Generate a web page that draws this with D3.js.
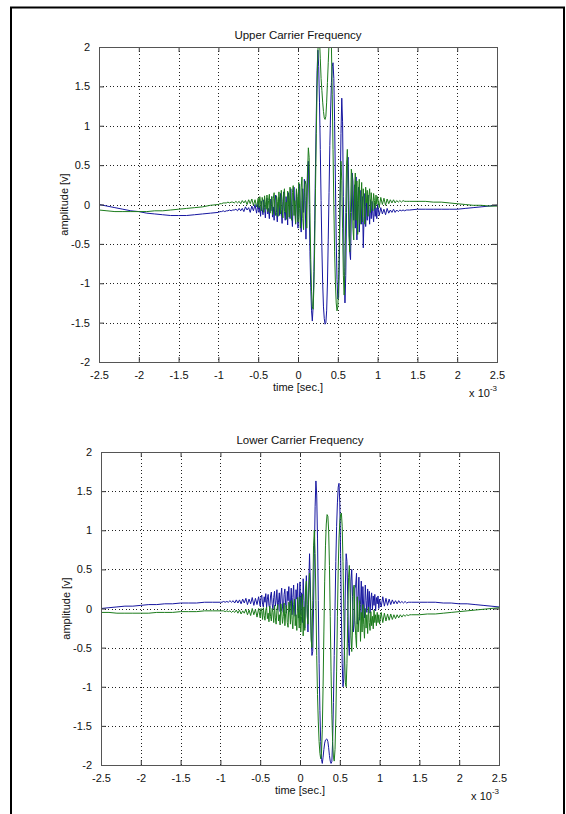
<!DOCTYPE html>
<html>
<head>
<meta charset="utf-8">
<script src="https://cdn.jsdelivr.net/npm/d3@7/dist/d3.min.js"></script>
<style>
  html, body { margin: 0; padding: 0; background: #fff; }
  svg { display: block; }
  text { font-family: "Liberation Sans", Arial, Helvetica, sans-serif; fill: #111; }
</style>
</head>
<body>
<svg id="fig" width="566" height="814"></svg>
<script>
// Sampling instants, in units of 1e-3 s (coarse at the quiet ends, finer through the burst)
const sampleTimes = [
  -2.5,-2.4,-2.3,-2.2,-2.1,-2.0,-1.9,-1.8,-1.7,-1.6,-1.5,-1.4,-1.3,-1.2,-1.1,-1.0,
  -0.98,-0.96,-0.94,-0.92,-0.90,-0.88,-0.86,-0.84,-0.82,-0.80,
  -0.78,-0.76,-0.74,-0.72,-0.70,-0.68,-0.66,-0.64,-0.62,-0.60,
  -0.58,-0.56,-0.54,-0.52,
  -0.50,-0.49,-0.48,-0.47,-0.46,-0.45,-0.44,-0.43,-0.42,-0.41,
  -0.40,-0.39,-0.38,-0.37,-0.36,-0.35,-0.34,-0.33,-0.32,-0.31,
  -0.30,-0.29,-0.28,-0.27,-0.26,-0.25,-0.24,-0.23,-0.22,-0.21,
  -0.20,-0.19,-0.18,-0.17,-0.16,-0.15,-0.14,-0.13,-0.12,-0.11,
  -0.10,-0.09,-0.08,-0.07,-0.06,-0.05,-0.04,-0.03,-0.02,-0.01,
  0.00,0.01,0.02,0.03,0.04,0.05,0.06,0.07,0.08,0.09,
  0.10,0.11,0.12,0.13,0.14,0.15,0.16,0.17,0.18,0.19,
  0.20,0.21,0.22,0.23,0.24,0.25,0.26,0.27,0.28,0.29,
  0.30,0.31,0.32,0.33,0.34,0.35,0.36,0.37,0.38,0.39,
  0.40,0.41,0.42,0.43,0.44,0.45,0.46,0.47,0.48,0.49,
  0.50,0.51,0.52,0.53,0.54,0.55,0.56,0.57,0.58,0.59,
  0.60,0.61,0.62,0.63,0.64,0.65,0.66,0.67,0.68,0.69,
  0.70,
  0.71,0.72,0.73,0.74,0.75,0.76,0.77,0.78,0.79,0.80,
  0.81,0.82,0.83,0.84,0.85,0.86,0.87,0.88,0.89,0.90,
  0.91,0.92,0.93,0.94,0.95,0.96,0.97,0.98,0.99,1.00,
  1.02,1.04,1.06,1.08,1.10,1.12,1.14,1.16,1.18,1.20,
  1.22,1.24,1.26,1.28,1.30,1.32,1.34,1.36,1.38,1.40,
  1.5,1.6,1.7,1.8,1.9,2.0,2.1,2.2,2.3,2.4,2.5
];

// Upper carrier: blue trace [v]
const upperBlue = [
  0.00,-0.02,-0.04,-0.06,-0.08,-0.09,-0.11,-0.12,-0.13,-0.14,-0.14,-0.14,-0.13,-0.12,-0.11,-0.10,
  -0.09,-0.09,-0.08,-0.09,-0.08,-0.08,-0.07,-0.08,-0.07,-0.07,
  -0.06,-0.08,-0.05,-0.08,-0.05,-0.09,-0.03,-0.07,-0.04,-0.10,
  -0.02,-0.08,0.00,-0.11,
  0.03,-0.10,-0.02,-0.15,0.04,-0.06,-0.13,0.06,-0.04,-0.17,
  0.02,0.08,-0.12,-0.05,-0.18,0.07,-0.08,0.10,-0.16,-0.03,
  -0.20,0.05,0.12,-0.10,-0.22,0.00,0.09,-0.14,0.14,-0.06,
  -0.24,0.04,0.16,-0.09,-0.20,0.10,-0.02,-0.26,0.15,0.05,
  -0.18,0.20,-0.12,-0.28,0.08,0.22,-0.06,-0.25,0.18,-0.02,
  -0.30,0.12,0.26,-0.15,-0.35,0.05,0.20,-0.10,0.32,0.05,
  -0.44,0.10,0.45,0.55,0.00,-0.60,-1.05,-1.35,-1.48,-1.30,
  -0.85,-0.20,0.50,1.15,1.70,1.96,1.75,1.30,0.70,0.05,
  -0.55,-1.00,-1.30,-1.45,-1.52,-1.50,-1.35,-1.00,-0.45,0.15,
  0.75,1.20,1.55,1.75,1.80,1.60,1.05,0.30,-0.45,-0.95,
  -1.20,-1.18,-0.70,0.15,0.90,1.35,1.05,0.10,-0.85,-1.25,
  -0.90,-0.10,0.55,0.60,0.05,-0.60,-0.70,-0.10,0.40,0.30,
  -0.20,
  0.25,-0.30,0.35,-0.45,0.05,0.22,-0.35,-0.10,0.18,-0.25,
  0.10,-0.55,-0.15,0.14,-0.28,0.02,-0.20,0.12,-0.06,-0.25,
  0.06,-0.18,0.04,-0.12,-0.22,0.02,-0.15,-0.04,-0.18,0.00,
  -0.14,-0.04,-0.12,-0.06,-0.13,-0.05,-0.11,-0.07,-0.10,-0.06,
  -0.10,-0.07,-0.09,-0.07,-0.08,-0.07,-0.08,-0.07,-0.07,-0.07,
  -0.06,-0.06,-0.06,-0.06,-0.06,-0.06,-0.05,-0.04,-0.03,-0.02,-0.01
];

// Upper carrier: green trace [v]
const upperGreen = [
  -0.07,-0.08,-0.09,-0.09,-0.09,-0.09,-0.09,-0.08,-0.08,-0.07,-0.06,-0.05,-0.04,-0.03,-0.01,0.00,
  0.01,0.01,0.02,0.02,0.02,0.03,0.02,0.03,0.03,0.02,
  0.04,0.02,0.04,0.01,0.05,0.02,0.05,0.00,0.06,0.01,
  0.07,-0.01,0.06,-0.03,
  0.08,-0.04,0.10,0.02,-0.08,0.09,0.03,-0.10,0.11,0.00,
  -0.06,0.12,-0.09,0.05,0.13,-0.11,0.02,0.10,-0.13,0.08,
  0.15,-0.08,-0.14,0.11,0.04,-0.15,0.16,0.02,-0.12,0.18,
  -0.05,-0.17,0.12,0.20,-0.10,0.03,-0.19,0.17,0.06,-0.16,
  0.22,-0.04,-0.20,0.15,0.24,-0.14,0.05,-0.24,0.20,0.10,
  -0.22,0.28,-0.05,-0.30,0.22,0.35,-0.18,-0.32,0.15,0.30,
  0.25,-0.30,0.40,0.72,0.60,-0.10,-0.70,-1.10,-1.30,-1.33,
  -1.05,-0.50,0.20,0.90,1.50,1.95,2.15,2.10,1.85,1.60,
  1.45,1.30,1.18,1.10,1.08,1.12,1.30,1.55,1.80,2.05,
  2.20,2.20,2.00,1.40,0.70,0.00,-0.60,-1.00,-1.25,-1.35,
  -1.30,-1.00,-0.40,0.20,0.55,0.30,-0.30,-0.90,-1.15,-0.80,
  -0.10,0.50,0.70,0.20,-0.40,-0.60,-0.10,0.45,0.35,-0.30,
  -0.45,
  0.15,0.40,-0.20,0.30,-0.38,0.10,0.32,-0.25,0.05,0.28,
  -0.22,0.20,-0.05,-0.25,0.22,0.02,0.18,-0.15,0.10,0.20,
  -0.10,0.15,0.02,-0.08,0.14,0.05,-0.05,0.12,0.00,0.10,
  -0.04,0.09,0.00,0.08,-0.01,0.07,0.01,0.06,0.02,0.06,
  0.02,0.05,0.03,0.05,0.03,0.05,0.04,0.04,0.04,0.04,
  0.04,0.04,0.03,0.03,0.02,0.01,0.00,-0.01,-0.01,-0.02,-0.02
];

// Lower carrier: blue trace [v]
const lowerBlue = [
  0.00,0.01,0.02,0.03,0.03,0.04,0.05,0.05,0.06,0.06,0.07,0.07,0.07,0.08,0.08,0.08,
  0.08,0.09,0.08,0.09,0.08,0.10,0.08,0.10,0.07,0.11,
  0.07,0.11,0.06,0.12,0.07,0.13,0.05,0.12,0.06,0.14,
  0.04,0.13,0.05,0.15,
  0.03,0.14,0.17,0.05,0.02,0.15,0.08,0.19,0.01,0.12,
  0.18,0.04,0.00,0.16,0.21,0.06,-0.01,0.14,0.22,0.03,
  0.10,0.24,-0.02,0.08,0.20,-0.04,0.16,0.26,0.02,-0.05,
  0.18,0.25,0.04,-0.06,0.22,0.10,0.28,-0.04,0.06,0.26,
  -0.08,0.14,0.30,0.02,-0.10,0.24,0.12,0.32,-0.12,0.05,
  0.34,-0.08,0.20,-0.18,0.38,0.10,-0.25,0.15,0.42,0.05,
  -0.30,0.30,0.70,0.30,-0.30,-0.60,-0.55,0.00,0.70,1.30,
  1.63,1.45,0.90,0.10,-0.70,-1.30,-1.70,-1.93,-1.98,-1.90,
  -1.80,-1.72,-1.68,-1.67,-1.67,-1.70,-1.78,-1.88,-1.95,-1.98,
  -1.96,-1.70,-1.20,-0.60,0.00,0.60,1.05,1.35,1.55,1.60,
  1.35,0.70,-0.10,-0.70,-1.00,-0.90,-0.40,0.30,0.70,0.60,
  0.10,-0.45,-0.60,-0.20,0.35,0.50,0.15,-0.30,-0.20,0.25,
  0.30,
  0.45,-0.20,0.15,0.40,-0.15,0.05,0.35,-0.10,0.28,0.02,
  -0.12,0.30,0.10,-0.05,0.25,0.00,0.22,-0.06,0.12,0.20,
  -0.02,0.16,0.04,0.18,-0.03,0.14,0.06,0.16,0.00,0.12,
  0.02,0.15,0.03,0.13,0.04,0.12,0.05,0.11,0.06,0.10,
  0.06,0.10,0.07,0.09,0.07,0.09,0.07,0.08,0.08,0.08,
  0.08,0.08,0.08,0.07,0.07,0.06,0.06,0.05,0.04,0.03,0.02
];

// Lower carrier: green trace [v]
const lowerGreen = [
  -0.05,-0.05,-0.06,-0.06,-0.06,-0.06,-0.06,-0.05,-0.05,-0.05,-0.04,-0.04,-0.04,-0.03,-0.03,-0.03,
  -0.03,-0.03,-0.04,-0.03,-0.04,-0.03,-0.05,-0.03,-0.05,-0.02,
  -0.06,-0.02,-0.07,-0.03,-0.06,-0.01,-0.08,-0.02,-0.09,0.00,
  -0.08,-0.01,-0.11,0.00,
  -0.12,0.00,-0.04,-0.14,0.01,-0.09,-0.15,-0.02,0.02,-0.13,
  -0.06,-0.17,0.03,-0.10,-0.16,0.00,-0.05,-0.18,0.04,-0.12,
  -0.20,-0.02,0.05,-0.16,-0.08,-0.21,0.06,-0.04,-0.19,-0.10,
  0.07,-0.22,-0.06,0.04,-0.18,-0.24,0.08,-0.02,-0.20,0.10,
  -0.14,-0.26,0.05,0.12,-0.22,-0.08,-0.28,0.14,-0.04,-0.25,
  0.15,-0.30,-0.10,0.18,-0.35,0.02,-0.28,0.25,0.35,-0.10,
  -0.20,0.20,0.45,0.10,-0.40,-0.50,0.10,0.80,1.00,0.70,
  0.10,-0.60,-1.10,-1.45,-1.70,-1.85,-1.92,-1.85,-1.55,-1.00,
  -0.30,0.35,0.80,1.08,1.20,1.18,1.00,0.55,-0.10,-0.80,
  -1.35,-1.70,-1.90,-1.95,-1.80,-1.40,-0.80,-0.10,0.50,0.90,
  1.10,1.20,1.22,1.05,0.60,0.00,-0.60,-0.95,-1.00,-0.70,
  -0.10,0.40,0.55,0.20,-0.35,-0.55,-0.25,0.25,0.30,-0.15,
  -0.35,
  -0.50,0.15,-0.30,-0.10,0.10,-0.42,-0.05,-0.30,0.05,-0.20,
  -0.38,0.00,-0.25,-0.08,-0.32,0.02,-0.18,-0.28,-0.04,-0.22,
  -0.10,-0.26,-0.02,-0.18,-0.08,-0.22,-0.05,-0.18,-0.08,-0.20,
  -0.05,-0.18,-0.06,-0.16,-0.07,-0.15,-0.07,-0.14,-0.08,-0.13,
  -0.08,-0.12,-0.08,-0.11,-0.08,-0.10,-0.08,-0.09,-0.08,-0.08,
  -0.08,-0.07,-0.07,-0.06,-0.05,-0.04,-0.03,-0.02,-0.01,0.00,0.01
];

const xTickValues = [-2.5,-2,-1.5,-1,-0.5,0,0.5,1,1.5,2,2.5];
const yTickValues = [-2,-1.5,-1,-0.5,0,0.5,1,1.5,2];
const panelTitles = ["Upper Carrier Frequency", "Lower Carrier Frequency"];
const xAxisLabel = "time [sec.]";
const yAxisLabel = "amplitude [v]";

const traceColors = ["#1616a0", "#1c7c1c"];

[upperBlue, upperGreen, lowerBlue, lowerGreen].forEach((s, i) => {
  if (s.length !== sampleTimes.length) throw new Error("series " + i + " has " + s.length + " samples, expected " + sampleTimes.length);
});

const panels = [
  { title: panelTitles[0], box: { left: 99, right: 497, top: 47, bottom: 362 }, traces: [upperBlue, upperGreen] },
  { title: panelTitles[1], box: { left: 101, right: 499, top: 452, bottom: 765 }, traces: [lowerBlue, lowerGreen] }
];

const svg = d3.select("#fig");
svg.append("rect").attr("width", 566).attr("height", 814).attr("fill", "#fff");

// Outer frame
svg.append("rect")
  .attr("x", 11).attr("y", 7.5)
  .attr("width", 553).attr("height", 830)
  .attr("fill", "none").attr("stroke", "#000").attr("stroke-width", 2);

const fmt = v => String(v);

panels.forEach((p, pi) => {
  const b = p.box;
  const x = d3.scaleLinear().domain([-2.5, 2.5]).range([b.left, b.right]);
  const y = d3.scaleLinear().domain([-2, 2]).range([b.bottom, b.top]);
  const g = svg.append("g");

  // dotted grid
  const grid = g.append("g").attr("stroke", "#222").attr("stroke-width", 1)
    .attr("stroke-dasharray", "1,2.5").attr("shape-rendering", "crispEdges");
  grid.selectAll("line.vx").data(xTickValues.slice(1, -1)).join("line")
    .attr("x1", d => Math.round(x(d)) + 0.5).attr("x2", d => Math.round(x(d)) + 0.5)
    .attr("y1", b.top).attr("y2", b.bottom);
  grid.selectAll("line.hy").data(yTickValues.slice(1, -1)).join("line")
    .attr("y1", d => Math.round(y(d)) + 0.5).attr("y2", d => Math.round(y(d)) + 0.5)
    .attr("x1", b.left).attr("x2", b.right);

  // traces, clipped to the axes box
  const clipId = "clip" + pi;
  svg.append("clipPath").attr("id", clipId).append("rect")
    .attr("x", b.left).attr("y", b.top).attr("width", b.right - b.left).attr("height", b.bottom - b.top);
  const line = d3.line().x(d => x(d[0])).y(d => y(d[1]));
  const traces = g.append("g").attr("clip-path", `url(#${clipId})`);
  p.traces.forEach((series, si) => {
    traces.append("path")
      .datum(d3.zip(sampleTimes, series))
      .attr("d", line)
      .attr("fill", "none")
      .attr("stroke", traceColors[si])
      .attr("stroke-width", 1)
      .attr("stroke-linejoin", "round");
  });

  // axes via d3 axis generators (inward ticks on every side, box drawn separately)
  const axisStyle = sel => {
    sel.selectAll(".domain").remove();
    sel.selectAll(".tick line").attr("stroke", "#333");
    sel.selectAll(".tick text").attr("fill", "#111")
      .style("font-size", "11px").style("font-family", "'Liberation Sans', Arial, sans-serif");
  };
  g.append("g").attr("transform", `translate(0,${b.bottom})`)
    .call(d3.axisBottom(x).tickValues(xTickValues).tickFormat(fmt).tickSizeInner(-5).tickSizeOuter(0).tickPadding(9))
    .call(axisStyle);
  g.append("g").attr("transform", `translate(0,${b.top})`)
    .call(d3.axisTop(x).tickValues(xTickValues).tickFormat("").tickSizeInner(-5).tickSizeOuter(0))
    .call(axisStyle);
  g.append("g").attr("transform", `translate(${b.left},0)`)
    .call(d3.axisLeft(y).tickValues(yTickValues).tickFormat(fmt).tickSizeInner(-5).tickSizeOuter(0).tickPadding(9))
    .call(axisStyle);
  g.append("g").attr("transform", `translate(${b.right},0)`)
    .call(d3.axisRight(y).tickValues(yTickValues).tickFormat("").tickSizeInner(-5).tickSizeOuter(0))
    .call(axisStyle);
  g.selectAll(".tick text").attr("font-family", null);

  // axes box
  g.append("rect")
    .attr("x", b.left + 0.5).attr("y", b.top + 0.5)
    .attr("width", b.right - b.left).attr("height", b.bottom - b.top)
    .attr("fill", "none").attr("stroke", "#555").attr("stroke-width", 1);

  const cx = (b.left + b.right) / 2;
  // title
  g.append("text").attr("x", cx).attr("y", b.top - 8)
    .attr("text-anchor", "middle").style("font-size", "11.5px").text(p.title);
  // x label
  g.append("text").attr("x", cx).attr("y", b.bottom + 29)
    .attr("text-anchor", "middle").style("font-size", "11px").text(xAxisLabel);
  // y label
  g.append("text")
    .attr("transform", `translate(${b.left - 31},${(b.top + b.bottom) / 2}) rotate(-90)`)
    .attr("text-anchor", "middle").style("font-size", "11px").text(yAxisLabel);
  // exponent marker
  const ex = g.append("text").attr("x", b.right).attr("y", b.bottom + 35)
    .attr("text-anchor", "end").style("font-size", "11px");
  ex.append("tspan").text("x 10");
  ex.append("tspan").attr("dy", -6).style("font-size", "8px").text("-3");
});
</script>
</body>
</html>
